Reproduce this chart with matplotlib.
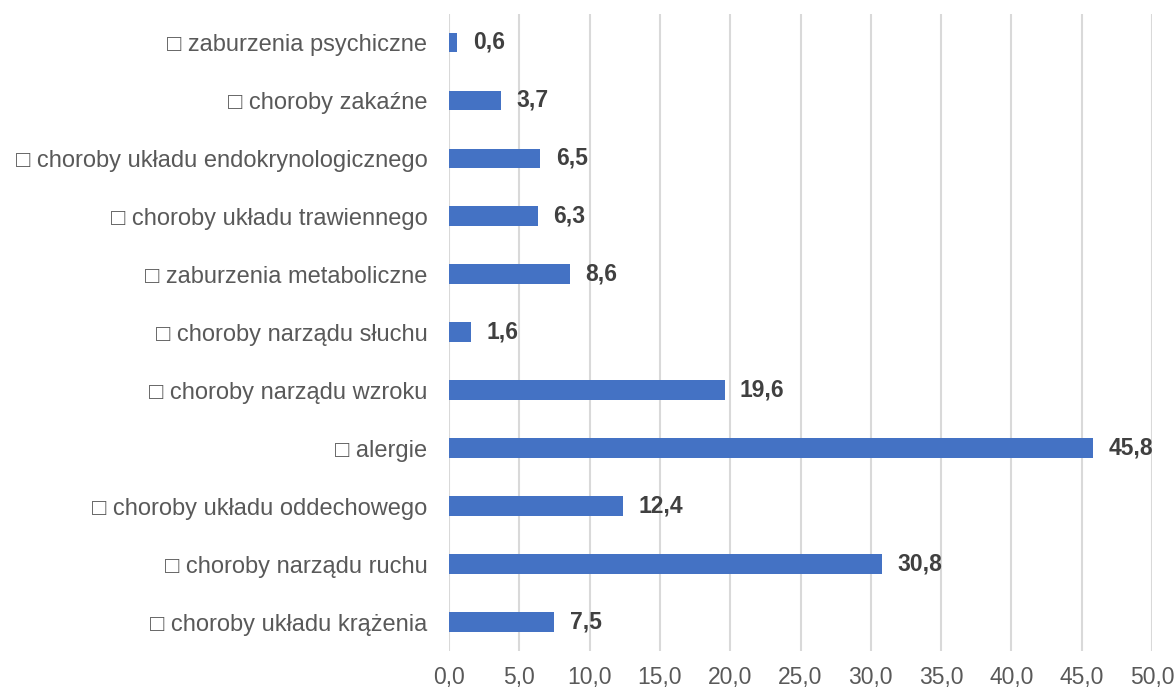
import matplotlib
matplotlib.use("Agg")
import matplotlib.pyplot as plt
from matplotlib.ticker import FuncFormatter

categories = [
    "□ choroby układu krążenia",
    "□ choroby narządu ruchu",
    "□ choroby układu oddechowego",
    "□ alergie",
    "□ choroby narządu wzroku",
    "□ choroby narządu słuchu",
    "□ zaburzenia metaboliczne",
    "□ choroby układu trawiennego",
    "□ choroby układu endokrynologicznego",
    "□ choroby zakaźne",
    "□ zaburzenia psychiczne",
]
values = [7.5, 30.8, 12.4, 45.8, 19.6, 1.6, 8.6, 6.3, 6.5, 3.7, 0.6]
x_ticks = [0, 5, 10, 15, 20, 25, 30, 35, 40, 45, 50]

plt.rcParams['font.family'] = ['Liberation Sans', 'DejaVu Sans']

fig = plt.figure(figsize=(11.76, 6.9), dpi=100)
ax = fig.add_axes([449/1176, 1 - 651/690, (1152-449)/1176, (651-13.5)/690])

y = list(range(len(categories)))
ax.barh(y, values, height=0.34, color="#4472C4", zorder=3)

for yi, v in zip(y, values):
    ax.annotate(f"{v:.1f}".replace(".", ","), xy=(v, yi), xytext=(11, 0),
                textcoords="offset points", va="center", ha="left",
                fontsize=16.5, fontweight="bold", color="#404040", zorder=4)

ax.set_xlim(0, 50)
ax.set_ylim(-0.5, len(categories) - 0.5)
ax.set_xticks(x_ticks)
ax.xaxis.set_major_formatter(FuncFormatter(lambda v, p: f"{v:.1f}".replace(".", ",")))
ax.set_yticks(y)
ax.set_yticklabels(categories)

ax.grid(axis="x", color="#d9d9d9", linewidth=1.5, zorder=0)
for s in ax.spines.values():
    s.set_visible(False)
ax.tick_params(axis="both", length=0, colors="#595959")
ax.tick_params(axis="x", pad=11, labelsize=16.5)
ax.tick_params(axis="y", pad=15.5, labelsize=17)

fig.savefig("out.png", dpi=100)
